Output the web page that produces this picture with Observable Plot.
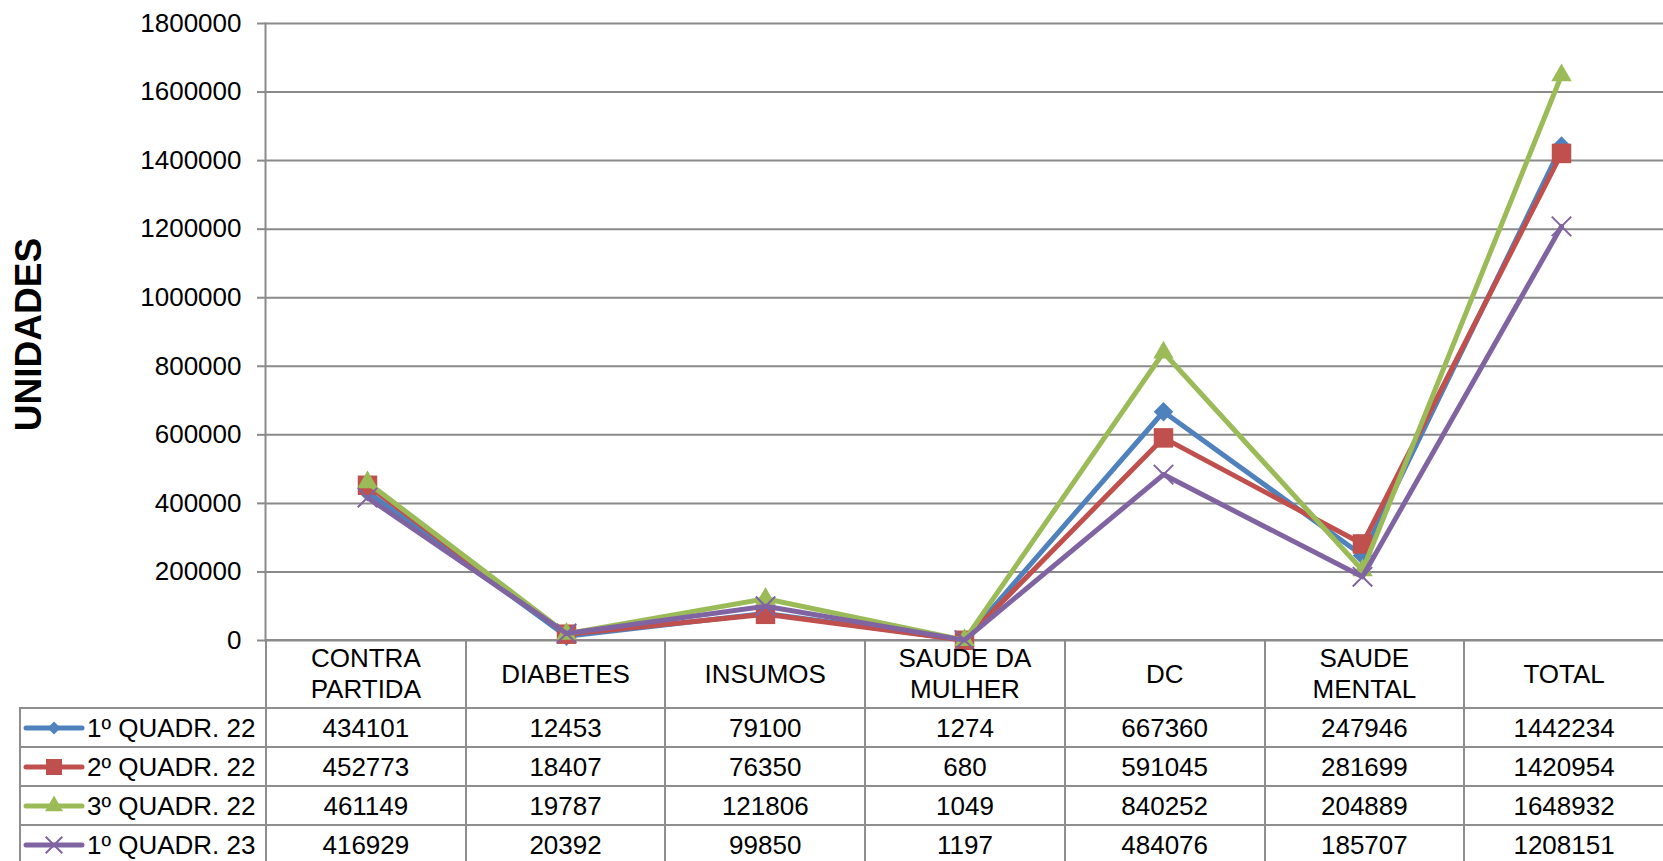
<!DOCTYPE html>
<html>
<head>
<meta charset="utf-8">
<script src="https://cdn.jsdelivr.net/npm/d3@7"></script>
<script src="https://cdn.jsdelivr.net/npm/@observablehq/plot@0.6"></script>
<style>
  html, body { margin: 0; padding: 0; background: #fff; overflow: hidden; }
  body { width: 1663px; height: 861px; font-family: "Liberation Sans", Arial, sans-serif; }
  #chart svg { display: block; overflow: visible; }
  #tbl { border-collapse: collapse; table-layout: fixed; margin-left: 19px; margin-top: -1px; width: 1644px;
         font-family: "Liberation Sans", Arial, sans-serif; font-size: 26px; color: #000; }
  #tbl td { border: 2px solid #8e8e8e; padding: 0; text-align: center; vertical-align: middle; white-space: nowrap; }
  #tbl tr.hdr { height: 68px; }
  #tbl tr.hdr td { line-height: 31px; }
  #tbl tr.row { height: 39px; }
  #tbl tr.row td { line-height: 30px; }
  #tbl td.blank { border: none; }
  #tbl td.leg { text-align: left; }
  #tbl td.leg div { display: flex; align-items: center; }
  #tbl td.leg svg { display: block; flex: none; margin-right: 2px; }
</style>
</head>
<body>
<div id="chart"></div>
<script>
// ---- data ----
const categories = ["CONTRA PARTIDA", "DIABETES", "INSUMOS", "SAUDE DA MULHER", "DC", "SAUDE MENTAL", "TOTAL"];
const headerLabels = ["CONTRA<br>PARTIDA", "DIABETES", "INSUMOS", "SAUDE DA<br>MULHER", "DC", "SAUDE<br>MENTAL", "TOTAL"];
const seriesNames = ["1º QUADR. 22", "2º QUADR. 22", "3º QUADR. 22", "1º QUADR. 23"];
const q1_22 = [434101, 12453, 79100, 1274, 667360, 247946, 1442234];
const q2_22 = [452773, 18407, 76350, 680, 591045, 281699, 1420954];
const q3_22 = [461149, 19787, 121806, 1049, 840252, 204889, 1648932];
const q1_23 = [416929, 20392, 99850, 1197, 484076, 185707, 1208151];
const yTicks = [0, 200000, 400000, 600000, 800000, 1000000, 1200000, 1400000, 1600000, 1800000];
const yLabel = "UNIDADES";

const seriesValues = [q1_22, q2_22, q3_22, q1_23];
const colors = ["#4F81BD", "#C0504D", "#9BBB59", "#8064A2"];
const symbols = ["square", "square", "triangle", "times"];
const rotations = [45, 0, 0, 0];
const radii = [7.8, 11, 7.6, 8.9];

const rows = seriesNames.flatMap((s, si) =>
  categories.map((c, ci) => ({series: s, si, category: c, value: seriesValues[si][ci]})));

const grid = "#8a8a8a";
const marks = [
  Plot.gridY(yTicks, {stroke: grid, strokeOpacity: 1, strokeWidth: 2}),
  Plot.axisY(yTicks, {tickSize: 8, tickPadding: 16, stroke: grid, strokeWidth: 2, fill: "#000",
    fontSize: 26, tickFormat: d => String(d), label: null}),
  Plot.frame({anchor: "left", stroke: grid, strokeWidth: 2}),
  Plot.text([yLabel], {text: d => d, frameAnchor: "left", textAnchor: "middle", dx: -236, dy: 2.5, rotate: -90,
    fontSize: 37, fontWeight: "bold", fill: "#000"})
];
seriesNames.forEach((s, si) => {
  const data = rows.filter(r => r.si === si);
  marks.push(Plot.line(data, {x: "category", y: "value", stroke: colors[si], strokeWidth: 5}));
  const isStroke = symbols[si] === "times";
  marks.push(Plot.dot(data, {x: "category", y: "value", symbol: symbols[si], r: radii[si],
    rotate: rotations[si],
    fill: isStroke ? "none" : colors[si], stroke: isStroke ? colors[si] : "none", strokeWidth: isStroke ? 2 : 0}));
});

const chart = Plot.plot({
  width: 1663,
  height: 640,
  marginTop: 23,
  marginBottom: 0,
  marginLeft: 265,
  marginRight: 0,
  style: {fontFamily: "Liberation Sans, Arial, sans-serif", fontSize: "26px", color: "#000", overflow: "visible", background: "white"},
  x: {type: "point", domain: categories, padding: 0.5, axis: null},
  y: {domain: [0, 1800000], axis: null},
  marks
});
document.getElementById("chart").appendChild(chart);

// ---- data table below the chart ----
const table = document.createElement("table");
table.id = "tbl";
const cg = document.createElement("colgroup");
const c0 = document.createElement("col"); c0.style.width = "246px"; cg.appendChild(c0);
categories.forEach(() => { const c = document.createElement("col"); c.style.width = (1398 / 7) + "px"; cg.appendChild(c); });
table.appendChild(cg);
const hr = document.createElement("tr"); hr.className = "hdr";
const blank = document.createElement("td"); blank.className = "blank"; hr.appendChild(blank);
headerLabels.forEach(h => { const td = document.createElement("td"); td.innerHTML = h; hr.appendChild(td); });
table.appendChild(hr);

const legendSizes = [85, 256, 140, 181];
seriesNames.forEach((s, si) => {
  const tr = document.createElement("tr"); tr.className = "row";
  const td = document.createElement("td"); td.className = "leg";
  const div = document.createElement("div");
  const svg = d3.create("svg").attr("width", 64).attr("height", 24);
  svg.append("line").attr("x1", 5).attr("x2", 61).attr("y1", 12).attr("y2", 12)
    .attr("stroke", colors[si]).attr("stroke-width", 5).attr("stroke-linecap", "round");
  const symType = si === 2 ? d3.symbolTriangle : si === 3 ? d3.symbolTimes : d3.symbolSquare;
  const p = svg.append("path").attr("d", d3.symbol(symType, legendSizes[si])())
    .attr("transform", `translate(33,12) rotate(${rotations[si]})`);
  if (si === 3) p.attr("fill", "none").attr("stroke", colors[si]).attr("stroke-width", 2);
  else p.attr("fill", colors[si]);
  div.appendChild(svg.node());
  const span = document.createElement("span"); span.textContent = s; div.appendChild(span);
  td.appendChild(div); tr.appendChild(td);
  seriesValues[si].forEach(v => { const c = document.createElement("td"); c.textContent = String(v); tr.appendChild(c); });
  table.appendChild(tr);
});
document.body.appendChild(table);
</script>
</body>
</html>
